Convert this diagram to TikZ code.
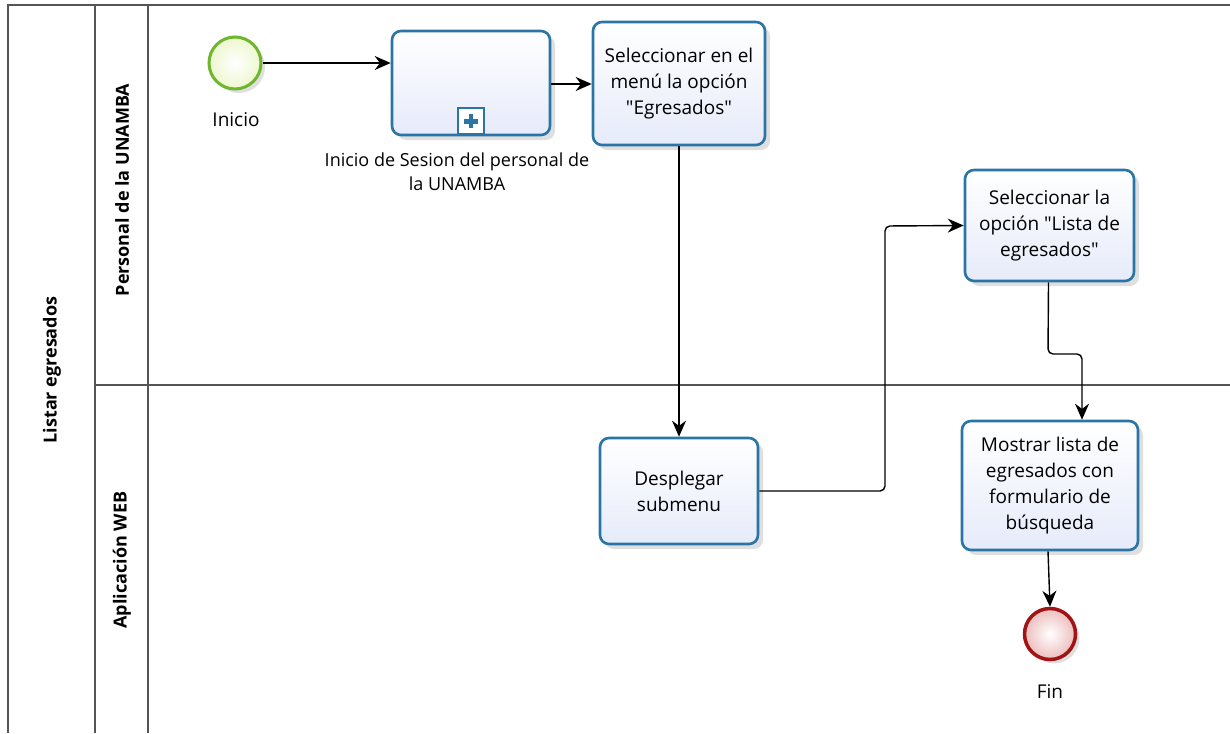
\documentclass[tikz,border=0pt]{standalone}
\usepackage{fontspec}
\setmainfont{Open Sans}[Ligatures=TeXOff]
\usetikzlibrary{arrows.meta, calc, positioning, shadows}
\definecolor{taskblue}{HTML}{2A74A6}
\definecolor{taskfill}{HTML}{E6EBFA}
\definecolor{startgreen}{HTML}{6DB62E}
\definecolor{startfill}{HTML}{EEF7CF}
\definecolor{endred}{HTML}{A01414}
\definecolor{endfill}{HTML}{EDBDBD}
\definecolor{poolgray}{HTML}{555555}
\begin{document}
\begin{tikzpicture}[x=1pt,y=-1pt,
  task/.style={draw=taskblue, line width=2.6pt, rounded corners=9pt, align=center,
    top color=white, bottom color=taskfill, font=\fontsize{19}{26}\selectfont,
    drop shadow={shadow xshift=5pt, shadow yshift=-5pt, opacity=.25}},
  evstart/.style={circle, draw=startgreen, line width=3pt, minimum size=52pt,
    inner color=white, outer color=startfill,
    drop shadow={shadow xshift=4pt, shadow yshift=-4pt, opacity=.25}},
  evend/.style={circle, draw=endred, line width=3.5pt, minimum size=51pt,
    inner color=white, outer color=endfill,
    drop shadow={shadow xshift=4pt, shadow yshift=-4pt, opacity=.25}},
  evlabel/.style={font=\fontsize{19}{24}\selectfont},
  lanelabel/.style={rotate=90, font=\fontsize{18}{20}\selectfont\bfseries},
  flow/.style={-{Stealth[length=16pt,width=14pt]}, line width=1.4pt},
  pool/.style={draw=poolgray, line width=1.2pt}]
\useasboundingbox (0,0) rectangle (1230,733);

% pool and lanes
\draw[pool] (8,733) -- (8,5) -- (1230,5);
\draw[pool] (95,5) -- (95,733);
\draw[pool] (148,5) -- (148,733);
\draw[pool] (95,385) -- (1230,385);
\node[lanelabel] (pool) at (52,370) {Listar egresados};
\node[lanelabel] (lane1) at (122,190) {Personal de la UNAMBA};
\node[lanelabel] (lane2) at (122,560) {Aplicación WEB};

% events
\node[evstart] (inicio) at (235,63) {};
\node[evlabel] (inicioL) at (236,120) {Inicio};
\node[evend] (fin) at (1050,634) {};
\node[evlabel] (finL) at (1050,692) {Fin};

% tasks
\node[task, minimum width=158, minimum height=104] (sesion) at (471,83) {};
\node[draw=taskblue, line width=2pt, fill=white, minimum size=26pt, inner sep=0pt, anchor=south] (plus) at ($(sesion.south)+(0,-1)$) {};
\draw[taskblue, line width=4.5pt] ($(plus.center)+(-7,0)$) -- ($(plus.center)+(7,0)$)
  ($(plus.center)+(0,-7)$) -- ($(plus.center)+(0,7)$);
\node[evlabel, align=center, font=\fontsize{18}{24}\selectfont] (sesionL) at (457,172) {Inicio de Sesion del personal de\\la UNAMBA};
\node[task, minimum width=172, minimum height=123] (menu) at (679,83.5) {Seleccionar en el\\menú la opción\\"Egresados"};
\node[task, minimum width=169, minimum height=111] (lista) at (1049.5,225.5) {Seleccionar la\\opción "Lista de\\egresados"};
\node[task, minimum width=158, minimum height=106] (despl) at (679,491) {Desplegar\\submenu};
\node[task, minimum width=176, minimum height=129] (mostrar) at (1050,485.5) {Mostrar lista de\\egresados con\\formulario de\\búsqueda};

% flows
\draw[flow] (inicio) -- (sesion.west |- inicio);
\draw[flow] ($(sesion.east)+(0,1)$) -- ($(menu.west)+(0,0.5)$);
\draw[flow] (menu.south) -- (despl.north);
\draw[flow, rounded corners=5pt] (despl.east) -- (885,491) -- (885,226) -- (lista.west);
\draw[flow, rounded corners=5pt] ($(lista.south)+(-1,0)$) -- (1048,354) -- (1082,354) -- ($(mostrar.north)+(32,0)$);
\draw[flow] ($(mostrar.south)+(-2,0)$) -- (fin.north);
\end{tikzpicture}
\end{document}
